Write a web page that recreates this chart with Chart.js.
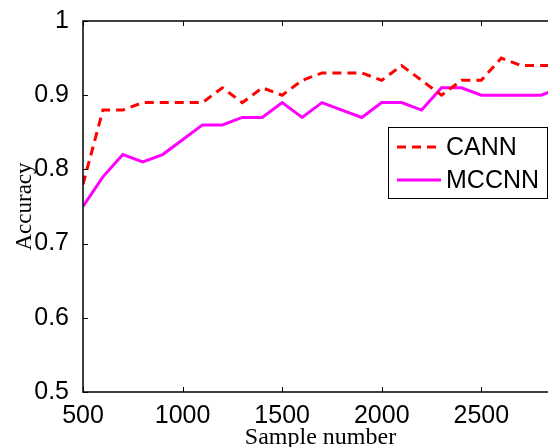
<!DOCTYPE html>
<html>
<head>
<meta charset="utf-8">
<script src="https://cdn.jsdelivr.net/npm/chart.js@4.4.1/dist/chart.umd.min.js"></script>
<style>
  html, body { margin: 0; padding: 0; background: #fff; overflow: hidden; }
  #wrap { width: 562px; height: 447px; position: relative; }
</style>
</head>
<body>
<div id="wrap"><canvas id="accChart"></canvas></div>
<script>
// sample numbers (x) and accuracy of each method
const sampleNumbers = [500, 600, 700, 800, 900, 1000, 1100, 1200, 1300, 1400, 1500, 1600,
  1700, 1800, 1900, 2000, 2100, 2200, 2300, 2400, 2500, 2600, 2700, 2800, 2900];
const cannAcc = [0.78, 0.88, 0.88, 0.89, 0.89, 0.89, 0.89, 0.91, 0.89, 0.91, 0.90, 0.92,
  0.93, 0.93, 0.93, 0.92, 0.94, 0.92, 0.90, 0.92, 0.92, 0.95, 0.94, 0.94, 0.94];
const mccnnAcc = [0.75, 0.79, 0.82, 0.81, 0.82, 0.84, 0.86, 0.86, 0.87, 0.87, 0.89, 0.87,
  0.89, 0.88, 0.87, 0.89, 0.89, 0.88, 0.91, 0.91, 0.90, 0.90, 0.90, 0.90, 0.91];
const xTicks = [500, 1000, 1500, 2000, 2500];
const yTicks = [0.5, 0.6, 0.7, 0.8, 0.9, 1];

const toPoints = (ys) => sampleNumbers.map((x, i) => ({ x: x, y: ys[i] }));

// box around the plot, inward ticks and the legend inside the axes
const framePlugin = {
  id: 'frame',
  afterDraw(chart) {
    const ctx = chart.ctx;
    const a = chart.chartArea;
    const xs = chart.scales.x, ys = chart.scales.y;
    ctx.save();
    ctx.strokeStyle = '#000';
    ctx.lineWidth = 1.5;
    ctx.strokeRect(a.left, a.top, a.right - a.left, a.bottom - a.top);
    ctx.lineWidth = 1;
    const len = 5;
    ctx.beginPath();
    xTicks.forEach((v) => {
      const px = Math.round(xs.getPixelForValue(v)) + 0.5;
      ctx.moveTo(px, a.bottom); ctx.lineTo(px, a.bottom - len);
      ctx.moveTo(px, a.top); ctx.lineTo(px, a.top + len);
    });
    yTicks.forEach((v) => {
      const py = Math.round(ys.getPixelForValue(v)) + 0.5;
      ctx.moveTo(a.left, py); ctx.lineTo(a.left + len, py);
      ctx.moveTo(a.right, py); ctx.lineTo(a.right - len, py);
    });
    ctx.stroke();

    // legend
    const bx = 388, by = 127, bw = 159, bh = 71;
    ctx.fillStyle = '#fff';
    ctx.fillRect(bx, by, bw, bh);
    ctx.lineWidth = 1;
    ctx.strokeStyle = '#000';
    ctx.strokeRect(bx + 0.5, by + 0.5, bw, bh);
    ctx.font = '25px "Liberation Sans", Arial, sans-serif';
    ctx.textBaseline = 'middle';
    chart.data.datasets.forEach((ds, i) => {
      const cy = 147 + i * 33;
      ctx.strokeStyle = ds.borderColor;
      ctx.lineWidth = ds.borderWidth;
      ctx.setLineDash(ds.borderDash || []);
      ctx.beginPath();
      ctx.moveTo(397, cy); ctx.lineTo(441, cy);
      ctx.stroke();
      ctx.setLineDash([]);
      ctx.fillStyle = '#000';
      ctx.fillText(ds.label, 446, cy + 1);
    });
    ctx.restore();
  }
};

new Chart(document.getElementById('accChart'), {
  type: 'line',
  data: {
    datasets: [
      {
        label: 'CANN',
        data: toPoints(cannAcc),
        borderColor: '#ff0000',
        borderWidth: 3,
        borderDash: [9, 6],
        pointRadius: 0,
        fill: false,
        tension: 0
      },
      {
        label: 'MCCNN',
        data: toPoints(mccnnAcc),
        borderColor: '#ff00ff',
        borderWidth: 3,
        pointRadius: 0,
        fill: false,
        tension: 0
      }
    ]
  },
  options: {
    responsive: true,
    maintainAspectRatio: false,
    animation: false,
    layout: { padding: { top: 21, right: 4, left: 0, bottom: 0 } },
    plugins: {
      legend: { display: false },
      tooltip: { enabled: false }
    },
    scales: {
      x: {
        type: 'linear',
        min: 500,
        max: 2885,
        afterBuildTicks: (scale) => { scale.ticks = xTicks.map((v) => ({ value: v })); },
        afterFit: (scale) => { scale.height = 55; },
        grid: { display: false },
        border: { display: false },
        ticks: {
          color: '#000',
          padding: 1,
          maxRotation: 0,
          autoSkip: false,
          callback: (v) => String(v),
          font: { family: '"Liberation Sans", Arial, sans-serif', size: 25 }
        },
        title: {
          display: true,
          text: 'Sample number',
          color: '#000',
          padding: { top: 0, bottom: -3 },
          font: { family: '"Liberation Serif", "Times New Roman", serif', size: 24, lineHeight: 1 }
        }
      },
      y: {
        min: 0.5,
        max: 1,
        afterBuildTicks: (scale) => { scale.ticks = yTicks.map((v) => ({ value: v })); },
        afterFit: (scale) => { scale.width = 83; },
        grid: { display: false },
        border: { display: false },
        ticks: {
          color: '#000',
          padding: 6,
          autoSkip: false,
          callback: (v) => String(Math.round(v * 10) / 10),
          font: { family: '"Liberation Sans", Arial, sans-serif', size: 25 }
        },
        title: {
          display: true,
          text: 'Accuracy',
          color: '#000',
          padding: { top: 13, bottom: 0 },
          font: { family: '"Liberation Serif", "Times New Roman", serif', size: 23, lineHeight: 1 }
        }
      }
    }
  },
  plugins: [framePlugin]
});
</script>
</body>
</html>
